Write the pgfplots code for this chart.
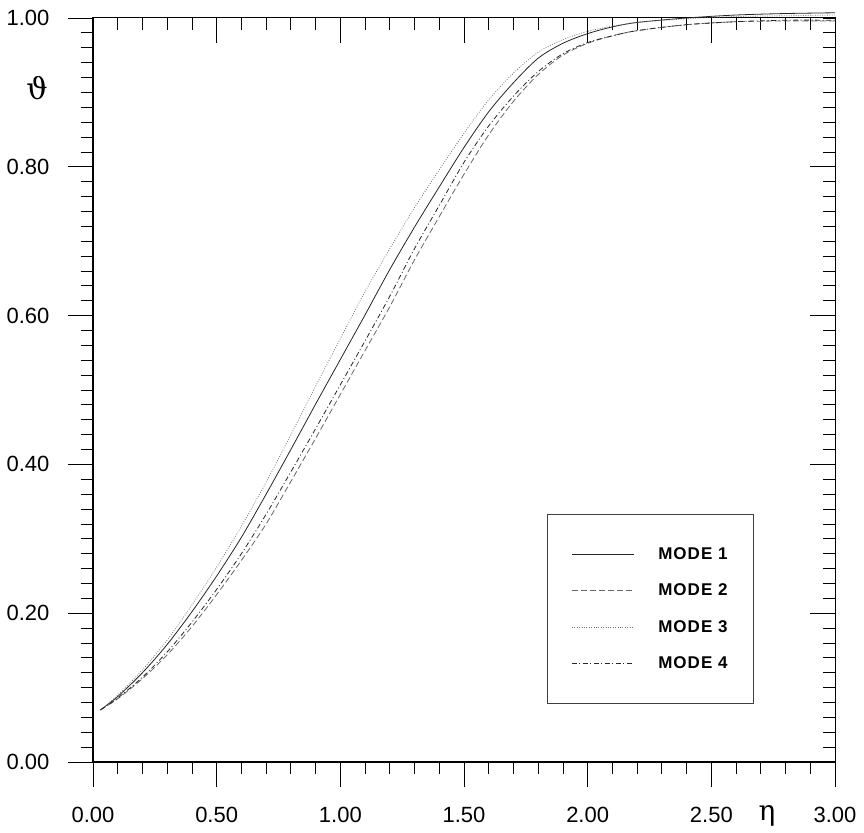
\documentclass[border=0pt]{standalone}
\usepackage{fontspec}
\setmainfont{Liberation Sans}
\newfontfamily\grk{DejaVu Serif}
\newfontfamily\legfont[LetterSpace=6]{Liberation Sans}
\usepackage{pgfplots}
\usepackage{pgfplotstable}
\pgfplotsset{compat=1.18}

% eta  theta
\pgfplotstableread{
x y
0.03 0.070
0.10 0.088
0.20 0.120
0.30 0.158
0.40 0.202
0.50 0.250
0.60 0.302
0.70 0.360
0.80 0.420
0.90 0.481
1.00 0.541
1.10 0.601
1.20 0.662
1.30 0.719
1.40 0.773
1.50 0.826
1.60 0.874
1.70 0.913
1.80 0.946
1.90 0.966
2.00 0.979
2.10 0.988
2.20 0.994
2.40 1.000
2.60 1.004
2.80 1.006
3.00 1.007
}\modeone

\pgfplotstableread{
x y
0.03 0.070
0.10 0.085
0.20 0.112
0.30 0.144
0.40 0.182
0.50 0.225
0.60 0.271
0.70 0.320
0.80 0.377
0.90 0.435
1.00 0.494
1.10 0.553
1.20 0.612
1.30 0.675
1.40 0.733
1.50 0.790
1.60 0.843
1.70 0.888
1.80 0.924
1.90 0.950
2.00 0.966
2.10 0.976
2.20 0.983
2.40 0.991
2.60 0.995
2.80 0.996
3.00 0.996
}\modetwo

\pgfplotstableread{
x y
0.03 0.070
0.10 0.090
0.20 0.124
0.30 0.164
0.40 0.211
0.50 0.262
0.60 0.317
0.70 0.376
0.80 0.440
0.90 0.505
1.00 0.569
1.10 0.632
1.20 0.690
1.30 0.745
1.40 0.796
1.50 0.845
1.60 0.890
1.70 0.926
1.80 0.954
1.90 0.971
2.00 0.982
2.10 0.989
2.20 0.994
2.40 0.999
2.60 1.002
2.80 1.003
3.00 1.004
}\modethree

\pgfplotstableread{
x y
0.03 0.070
0.10 0.086
0.20 0.114
0.30 0.148
0.40 0.188
0.50 0.232
0.60 0.280
0.70 0.333
0.80 0.390
0.90 0.448
1.00 0.507
1.10 0.566
1.20 0.626
1.30 0.690
1.40 0.748
1.50 0.806
1.60 0.855
1.70 0.895
1.80 0.928
1.90 0.952
2.00 0.967
2.10 0.976
2.20 0.983
2.40 0.991
2.60 0.995
2.80 0.997
3.00 0.997
}\modefour

\pgfplotsset{
  frame/.style={
    scale only axis, width=742pt, height=744pt,
    xmin=0, xmax=3, ymin=0, ymax=1,
    major tick length=25pt, minor tick length=12pt,
    axis line style={line width=1pt},
    every tick/.style={line width=0.8pt, black},
    /pgf/number format/fixed,
    /pgf/number format/fixed zerofill,
    /pgf/number format/precision=2,
    /pgf/number format/assume math mode=true,
  }
}

\begin{document}
\begin{tikzpicture}
\path[use as bounding box] (-93pt,-70pt) rectangle (771pt,762pt);

% top and right spines: ticks point inwards
\begin{axis}[frame, tick align=inside, xtick pos=right, ytick pos=right,
  xtick={0.5,1,1.5,2,2.5}, ytick={0.2,0.4,0.6,0.8},
  minor xtick={0.1,0.2,0.3,0.4,0.6,0.7,0.8,0.9,1.1,1.2,1.3,1.4,1.6,1.7,1.8,1.9,2.1,2.2,2.3,2.4,2.6,2.7,2.8,2.9},
  minor ytick={0.02,0.04,...,0.99},
  xticklabels={}, yticklabels={}]
\end{axis}

% left and bottom spines: ticks point outwards
\begin{axis}[frame, tick align=outside, xtick pos=left, ytick pos=left,
  xtick={0,0.5,1,1.5,2,2.5,3},
  ytick={0,0.2,0.4,0.6,0.8,1},
  minor x tick num=4, minor y tick num=9,
  clip=false,
  tick label style={font=\fontsize{22}{22}\selectfont},
  yticklabel style={xshift=-15pt},
  xticklabel style={yshift=-17pt},
  legend style={at={(axis description cs:0.612,0.333)}, anchor=north west,
    draw=black!75, line width=0.8pt, inner xsep=24pt, inner ysep=31pt,
    font=\fontsize{17}{17}\selectfont\legfont\bfseries,
    row sep=19pt, nodes={inner sep=2pt},
    /tikz/every odd column/.append style={column sep=22pt}},
  legend cell align=left,
  legend image code/.code={\draw[#1] (0pt,0pt) -- (62pt,0pt);},
]
\addplot[black!85, line width=0.8pt, smooth] table {\modeone};
\addlegendentry{MODE 1}
\addplot[black!60, line width=0.8pt, smooth, dash pattern=on 6pt off 3pt] table {\modetwo};
\addlegendentry{MODE 2}
\addplot[black!55, line width=0.8pt, smooth, dash pattern=on 0.8pt off 1.6pt] table {\modethree};
\addlegendentry{MODE 3}
\addplot[black!85, line width=0.8pt, smooth, dash pattern=on 5pt off 2.5pt on 1pt off 2.5pt] table {\modefour};
\addlegendentry{MODE 4}

\node at (axis cs:-0.226,0.906) {\fontsize{30}{30}\selectfont\grk ϑ};
\node at (axis cs:2.725,-0.072) {\fontsize{28}{28}\selectfont\grk η};
\end{axis}
\end{tikzpicture}
\end{document}
